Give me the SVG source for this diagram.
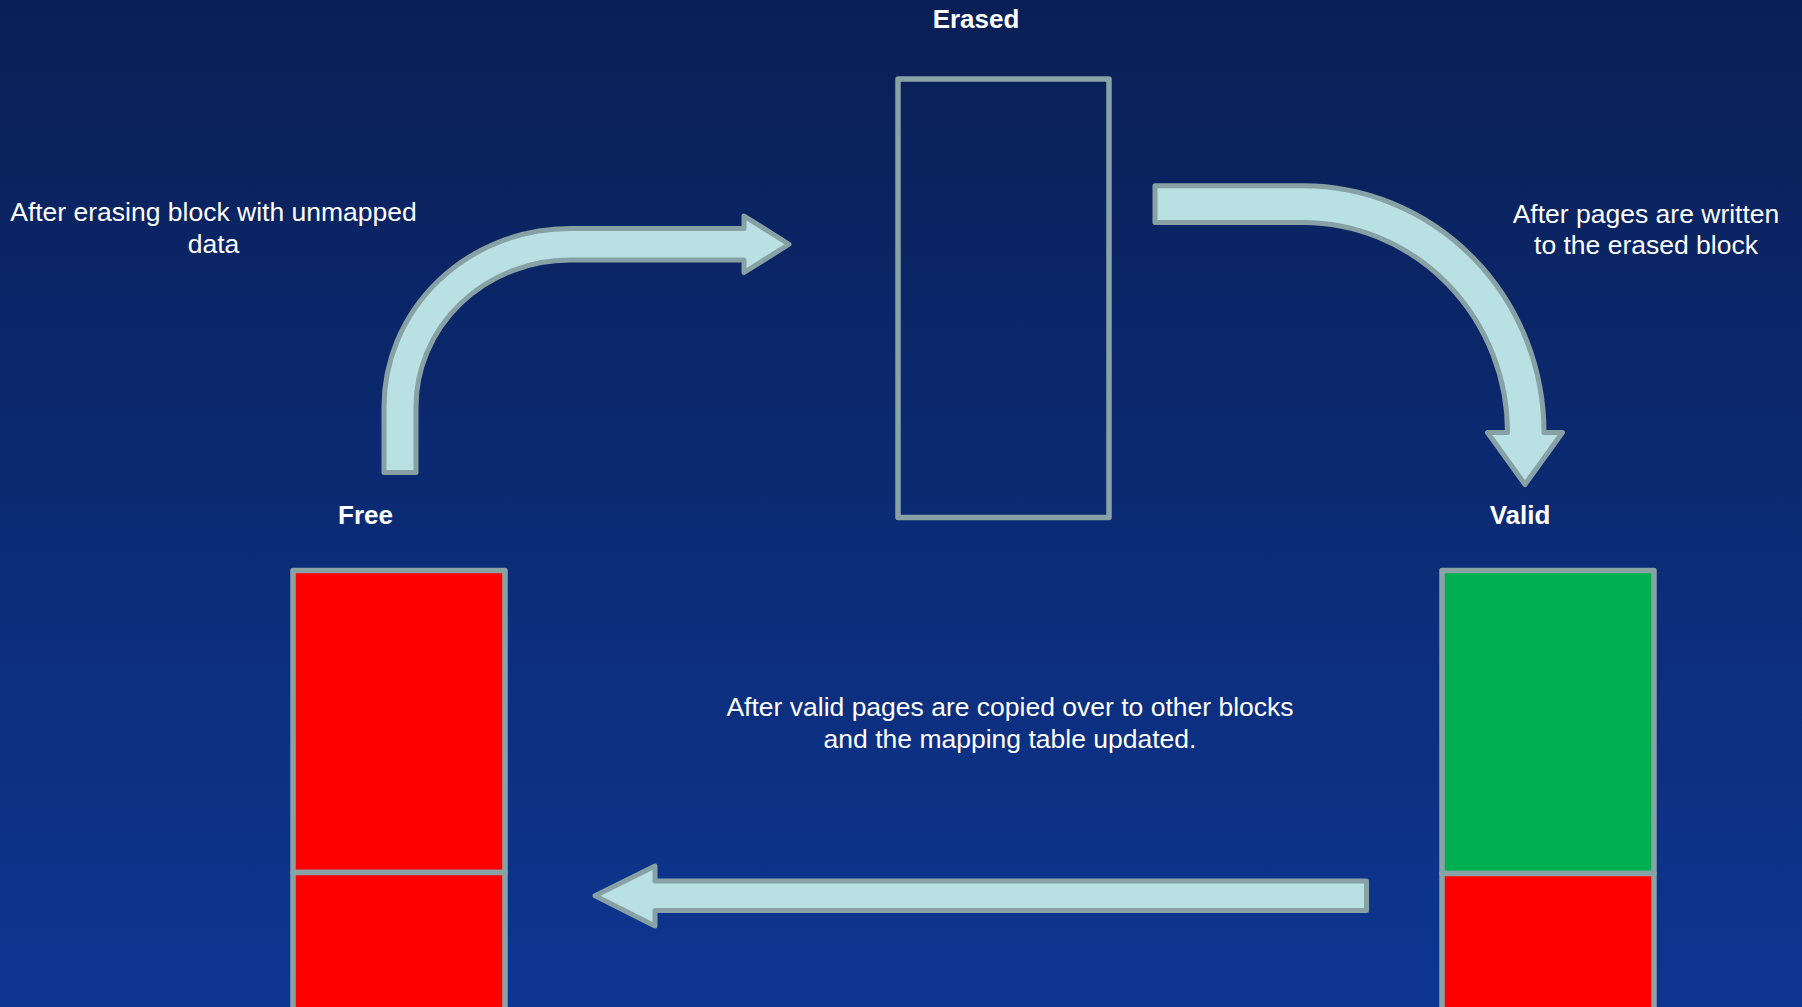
<svg xmlns="http://www.w3.org/2000/svg" width="1802" height="1007" viewBox="0 0 1802 1007">
  <defs>
    <linearGradient id="bg" x1="0" y1="0" x2="0" y2="1">
      <stop offset="0" stop-color="#0a1f55"/>
      <stop offset="1" stop-color="#0d3692"/>
    </linearGradient>
  </defs>
  <style>
    .arrow { fill: #b9e0e3; stroke: #87a1a4; stroke-width: 5; stroke-linejoin: round; }
    .block { stroke: #88a2a5; stroke-width: 5.5; stroke-linejoin: round; }
    .title { font-family: "Liberation Sans", Arial, sans-serif; font-weight: bold; font-size: 26px; fill: #ffffff; text-anchor: middle; }
    .note { font-family: "Liberation Sans", Arial, sans-serif; font-size: 26.5px; fill: #ffffff; text-anchor: middle; }
  </style>

  <rect x="0" y="0" width="1802" height="1007" fill="url(#bg)"/>

  <!-- Erased block -->
  <g id="erased">
    <rect class="block" x="898" y="79" width="211" height="438.5" fill="none"/>
    <text class="title" x="976" y="28">Erased</text>
  </g>

  <!-- Free block -->
  <g id="free">
    <rect class="block" x="293" y="570.5" width="212" height="302" fill="#ff0000"/>
    <rect class="block" x="293" y="872.5" width="212" height="200" fill="#ff0000"/>
    <text class="title" x="365.5" y="523.5">Free</text>
  </g>

  <!-- Valid block -->
  <g id="valid">
    <rect class="block" x="1442" y="570.5" width="212" height="303" fill="#00af50"/>
    <rect class="block" x="1442" y="873.5" width="212" height="200" fill="#ff0000"/>
    <text class="title" x="1520" y="523.5">Valid</text>
  </g>

  <!-- Transition arrows -->
  <g id="connectors">
    <!-- Free to Erased -->
    <path class="arrow" d="M384,472.5 L384,407 A186,178.5 0 0 1 570,228.5 L744,228.5 L744,216 L789,244.25 L744,272.5 L744,260 L570,260 A154,147 0 0 0 416,407 L416,472.5 Z"/>
    <!-- Erased to Valid -->
    <path class="arrow" d="M1155,185.8 L1303,185.8 A241,246.7 0 0 1 1544,432.5 L1562.5,432.5 L1525,484.5 L1487.5,432.5 L1507.5,432.5 A204.5,210 0 0 0 1303,222.5 L1155,222.5 Z"/>
    <!-- Valid to Free -->
    <path class="arrow" d="M1366.5,881 L1366.5,910.5 L655,910.5 L655,926 L595,895.75 L655,866 L655,881 Z"/>
  </g>

  <!-- Transition notes -->
  <g id="notes">
    <text class="note" x="213.5" y="221">After erasing block with unmapped</text>
    <text class="note" x="213.5" y="253">data</text>
    <text class="note" x="1646" y="222.5">After pages are written</text>
    <text class="note" x="1646" y="254">to the erased block</text>
    <text class="note" x="1010" y="716">After valid pages are copied over to other blocks</text>
    <text class="note" x="1010" y="747.5">and the mapping table updated.</text>
  </g>
</svg>
